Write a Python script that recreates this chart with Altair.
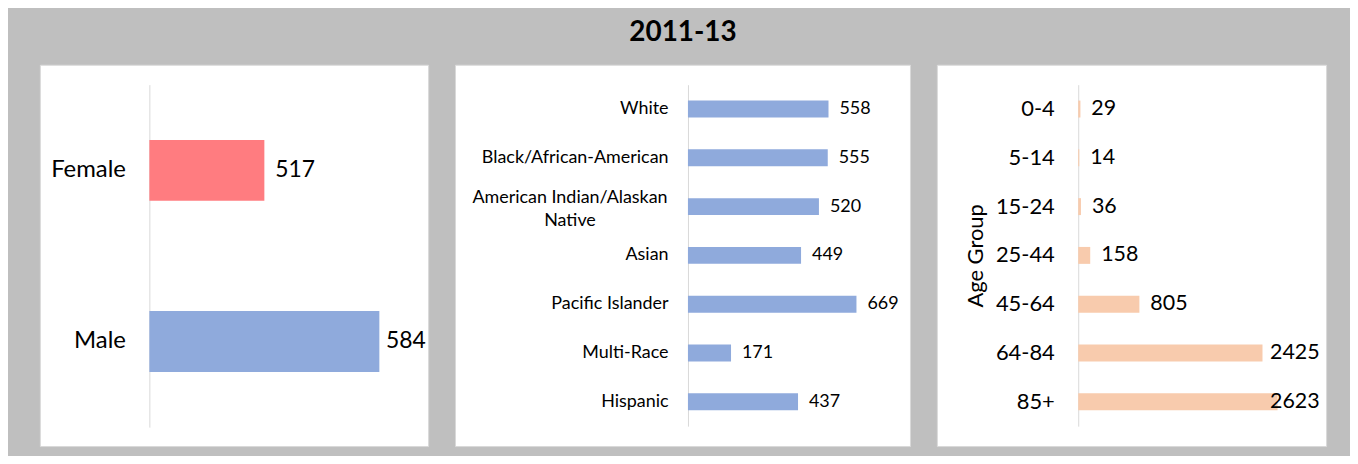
import altair as alt
import pandas as pd

# ---- data ----
title_text = "2011-13"
sex_cats = ["Female", "Male"]
sex_vals = [517, 584]
race_cats = ["White", "Black/African-American", "American Indian/Alaskan Native",
             "Asian", "Pacific Islander", "Multi-Race", "Hispanic"]
race_vals = [558, 555, 520, 449, 669, 171, 437]
age_cats = ["0-4", "5-14", "15-24", "25-44", "45-64", "64-84", "85+"]
age_vals = [29, 14, 36, 158, 805, 2425, 2623]

FONT = "Lato"
AXIS_GREY = "#D9D9D9"

sex_df = pd.DataFrame({"cat": sex_cats, "val": sex_vals})
race_df = pd.DataFrame({"cat": race_cats, "val": race_vals})
age_df = pd.DataFrame({"cat": age_cats, "val": age_vals})


def panel(df, cats, width, height, axis_x, x_domain, x_px, y_range, pad_in,
          label_size, label_pad, value_size, cap, color, axis_title=None,
          extra_axis=None):
    axis_kwargs = dict(offset=-axis_x, domainColor=AXIS_GREY, domainWidth=1,
                       ticks=False, grid=False, labelFont=FONT,
                       labelFontSize=label_size, labelColor="black",
                       labelPadding=label_pad, labelLimit=400)
    if extra_axis:
        axis_kwargs.update(extra_axis)
    if axis_title:
        axis_kwargs.update(title=axis_title, titleFont=FONT, titleFontSize=22,
                           titleFontWeight="normal", titleColor="black",
                           titlePadding=8)
    else:
        axis_kwargs["title"] = None
    y = alt.Y("cat:N", sort=cats,
              scale=alt.Scale(range=y_range, paddingInner=pad_in,
                              paddingOuter=pad_in / 2),
              axis=alt.Axis(**axis_kwargs))
    xscale = alt.Scale(domain=x_domain, range=[axis_x, axis_x + x_px],
                       zero=False, nice=False)
    bars = alt.Chart(df).mark_bar().encode(
        x=alt.X("val:Q", scale=xscale, axis=None),
        x2=alt.datum(x_domain[0]),
        y=y,
        color=color,
    )
    labels = alt.Chart(df).transform_calculate(
        labx=f"min(datum.val, {cap})"
    ).mark_text(align="left", baseline="middle", dx=11, font=FONT,
                fontSize=value_size, color="black").encode(
        x=alt.X("labx:Q", scale=xscale, axis=None),
        y=y,
        text="val:Q",
    )
    return alt.layer(bars, labels).properties(width=width, height=height)


p1 = panel(sex_df, sex_cats, 390, 383, 110, [450, 600], 258.6, [20, 364], 0.645,
           24, 24, 23, 581.5,
           alt.Color("cat:N", scale=alt.Scale(domain=sex_cats,
                                              range=["#FF7C80", "#8FAADC"]),
                     legend=None))

long_race = "American Indian/Alaskan Native"
is_long = f"datum.value == '{long_race}'"
p2 = panel(race_df, race_cats, 457, 383, 234, [0, 800], 202.4, [20, 363], 0.653,
           18, 20, 18, 5000, alt.value("#8FAADC"),
           extra_axis=dict(
               labelExpr=(f"datum.label == '{long_race}' ? "
                          "['American Indian/Alaskan', 'Native'] : datum.label"),
               labelLineHeight=23,
               labelAlign={"condition": {"test": is_long, "value": "center"},
                           "value": "right"},
               labelPadding={"condition": {"test": is_long, "value": 119},
                             "value": 20},
               labelOffset={"condition": {"test": is_long, "value": -9},
                            "value": 0},
           ))

p3 = panel(age_df, age_cats, 391, 383, 142, [0, 3000], 229, [20, 363], 0.653,
           22, 24, 21.5, 2380, alt.value("#F8CBAD"), axis_title="Age Group")

chart = alt.hconcat(p1, p2, p3, spacing=25).properties(
    title=alt.Title(title_text, font=FONT, fontSize=28, fontWeight="bold",
                    color="black", anchor="middle", offset=17),
    background="#BFBFBF",
    padding={"left": 31, "top": 10, "right": 23, "bottom": 8},
).configure_view(fill="white", stroke=AXIS_GREY, strokeWidth=1)

chart.save("out.html", embed_options={"renderer": "svg", "actions": False})
